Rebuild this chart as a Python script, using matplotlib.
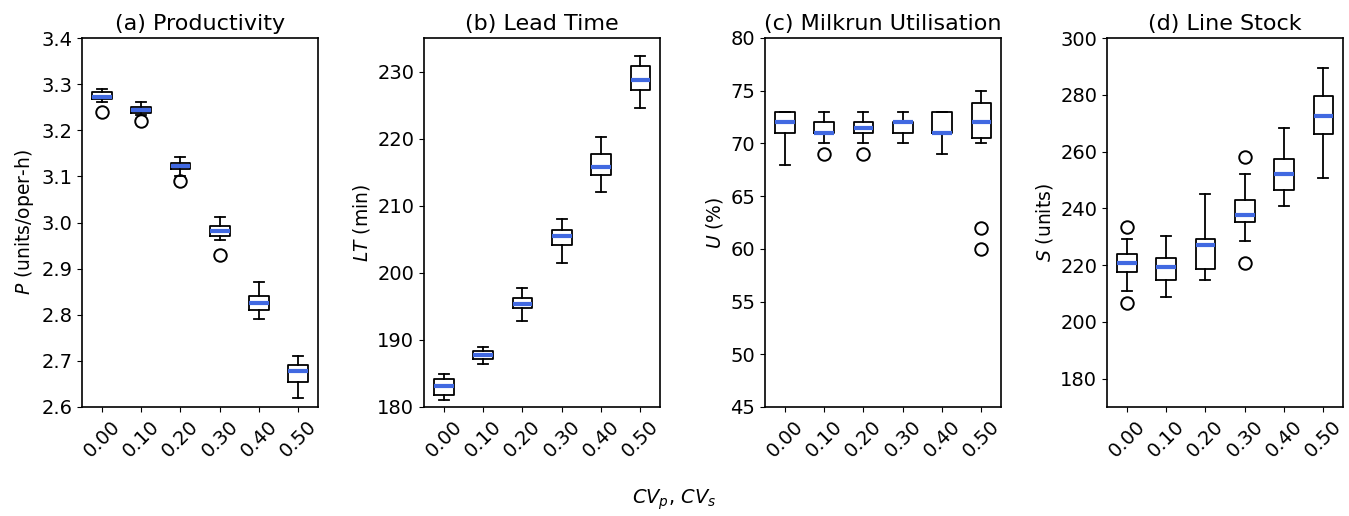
import matplotlib
matplotlib.use("Agg")
import matplotlib.pyplot as plt

cv_labels = ['0.00', '0.10', '0.20', '0.30', '0.40', '0.50']

# box statistics: whisker low, q1, median, q3, whisker high, outliers
prod_wlo = [3.262, 3.233, 3.100, 2.961, 2.790, 2.620]
prod_q1 = [3.267, 3.238, 3.117, 2.971, 2.810, 2.654]
prod_med = [3.272, 3.244, 3.122, 2.982, 2.825, 2.677]
prod_q3 = [3.282, 3.251, 3.130, 2.992, 2.840, 2.691]
prod_whi = [3.290, 3.262, 3.141, 3.011, 2.870, 2.711]
prod_fl = [[3.24], [3.22], [3.089], [2.93], [], []]

lt_wlo = [181.1, 186.4, 192.8, 201.5, 212.1, 224.5]
lt_q1 = [181.8, 187.2, 194.8, 204.1, 214.6, 227.3]
lt_med = [183.1, 187.8, 195.4, 205.5, 215.7, 228.8]
lt_q3 = [184.1, 188.4, 196.2, 206.4, 217.7, 230.9]
lt_whi = [184.9, 189.0, 197.7, 208.0, 220.2, 232.3]
lt_fl = [[], [], [], [], [], []]

mu_wlo = [68, 70, 70, 70, 69, 70]
mu_q1 = [71, 71, 71, 71, 71, 70.5]
mu_med = [72, 71, 71.5, 72, 71, 72]
mu_q3 = [73, 72, 72, 72, 73, 73.8]
mu_whi = [73, 73, 73, 73, 73, 75]
mu_fl = [[], [69], [69], [], [], [62, 60]]

ls_wlo = [210.9, 208.7, 214.7, 228.4, 240.7, 250.7]
ls_q1 = [217.6, 214.8, 218.7, 235.1, 246.6, 266.1]
ls_med = [220.8, 219.2, 226.9, 237.8, 252.2, 272.4]
ls_q3 = [223.8, 222.6, 229.3, 242.8, 257.4, 279.5]
ls_whi = [229.3, 230.1, 245.2, 252.0, 268.4, 289.6]
ls_fl = [[233.4, 206.7], [], [], [258.0, 220.8], [], []]

panels = [
    ('(a) Productivity', '$P$ (units/oper-h)', (2.6, 3.4), [2.6, 2.7, 2.8, 2.9, 3.0, 3.1, 3.2, 3.3, 3.4],
     prod_wlo, prod_q1, prod_med, prod_q3, prod_whi, prod_fl),
    ('(b) Lead Time', '$LT$ (min)', (180, 235), [180, 190, 200, 210, 220, 230],
     lt_wlo, lt_q1, lt_med, lt_q3, lt_whi, lt_fl),
    ('(c) Milkrun Utilisation', '$U$ (%)', (45, 80), [45, 50, 55, 60, 65, 70, 75, 80],
     mu_wlo, mu_q1, mu_med, mu_q3, mu_whi, mu_fl),
    ('(d) Line Stock', '$S$ (units)', (170, 300), [180, 200, 220, 240, 260, 280, 300],
     ls_wlo, ls_q1, ls_med, ls_q3, ls_whi, ls_fl),
]

W, H = 1349, 516
fig = plt.figure(figsize=(W / 100, H / 100), dpi=100)
lefts = [82, 424, 765, 1107]
aw = 236
top, bottom = 38, 407

for left, (title, ylabel, ylim, yticks, wlo, q1, med, q3, whi, fl) in zip(lefts, panels):
    ax = fig.add_axes([left / W, 1 - bottom / H, aw / W, (bottom - top) / H])
    stats = []
    for i in range(len(cv_labels)):
        stats.append(dict(whislo=wlo[i], q1=q1[i], med=med[i], q3=q3[i], whishi=whi[i],
                          fliers=fl[i], label=cv_labels[i]))
    ax.bxp(stats, showfliers=True,
           medianprops=dict(color='royalblue', linewidth=3),
           boxprops=dict(linewidth=1.3), whiskerprops=dict(linewidth=1.3),
           capprops=dict(linewidth=1.3),
           flierprops=dict(marker='o', markersize=9, markerfacecolor='none',
                           markeredgecolor='black', markeredgewidth=1.4))
    ax.set_ylim(*ylim)
    ax.set_yticks(yticks)
    ax.set_title(title, fontsize=16)
    ax.set_ylabel(ylabel, fontsize=13.5)
    ax.tick_params(axis='y', labelsize=14)
    ax.tick_params(axis='x', labelsize=14, labelrotation=45)
    for sp in ax.spines.values():
        sp.set_linewidth(1.2)

fig.text(0.5, 1 - 500 / H, '$CV_p$, $CV_s$', ha='center', va='center', fontsize=14)

fig.savefig('out.png', dpi=100)
